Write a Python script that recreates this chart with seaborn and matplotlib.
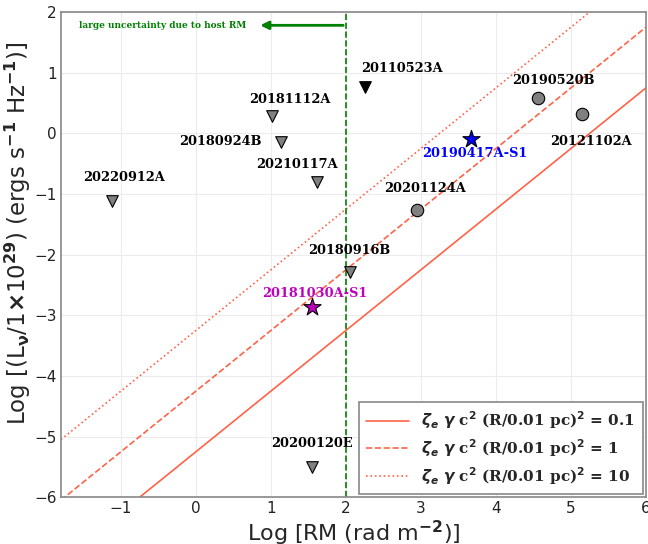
import matplotlib
matplotlib.use("Agg")
import matplotlib.pyplot as plt
import seaborn as sns
import pandas as pd

# FRB points: log RM vs log L_nu
names = ['20220912A', '20181112A', '20180924B', '20210117A', '20180916B', '20200120E',
         '20110523A', '20201124A', '20190520B', '20121102A', '20181030A-S1', '20190417A-S1']
log_rm = [-1.12, 1.02, 1.14, 1.62, 2.05, 1.55, 2.26, 2.95, 4.56, 5.15, 1.55, 3.67]
log_l = [-1.12, 0.28, -0.15, -0.81, -2.29, -5.5, 0.76, -1.27, 0.58, 0.31, -2.87, -0.1]
kind = ['upper', 'upper', 'upper', 'upper', 'upper', 'upper',
        'upper_black', 'circle', 'circle', 'circle', 'star_m', 'star_b']

# label positions (centre of text)
label_x = [-0.96, 1.25, 0.33, 1.35, 2.05, 1.55, 2.74, 3.05, 4.77, 5.26, 1.58, 3.71]
label_y = [-0.73, 0.56, -0.13, -0.51, -1.93, -5.12, 1.07, -0.91, 0.87, -0.13, -2.64, -0.33]
label_color = ['black'] * 10 + ['#bf00bf', '#0000ff']

# model lines
line_x = [-1.8, 6.0]
solid_y = [-7.05, 0.75]
dashed_y = [-6.05, 1.75]
dotted_y = [-5.05, 2.75]

sns.set_theme(style="whitegrid")
plt.rcParams['font.family'] = ['DejaVu Sans']

fig, ax = plt.subplots(figsize=(6.48, 5.44), dpi=100)
fig.subplots_adjust(left=0.094, right=0.997, top=0.978, bottom=0.086)

lab = r'$\mathbfit{\zeta_e}$ $\mathbfit{\gamma}$ c$^{\mathbf{2}}$ (R/0.01 pc)$^{\mathbf{2}}$ = '
sns.lineplot(x=line_x, y=solid_y, ax=ax, color='tomato', lw=1.2, ls='-', label=lab + '0.1')
sns.lineplot(x=line_x, y=dashed_y, ax=ax, color='tomato', lw=1.2, ls='--', label=lab + '1')
sns.lineplot(x=line_x, y=dotted_y, ax=ax, color='tomato', lw=1.2, ls=':', label=lab + '10')

df = pd.DataFrame({'rm': log_rm, 'l': log_l, 'kind': kind})
styles = {
    'upper': dict(marker='v', color='gray', s=70),
    'upper_black': dict(marker='v', color='black', s=70),
    'circle': dict(marker='o', color='gray', s=80),
    'star_m': dict(marker='*', color='#bf00bf', s=170),
    'star_b': dict(marker='*', color='#0000ff', s=170),
}
for k, st in styles.items():
    sub = df[df['kind'] == k]
    sns.scatterplot(data=sub, x='rm', y='l', ax=ax, marker=st['marker'], color=st['color'],
                    s=st['s'], edgecolor='black', linewidth=0.8, legend=False, zorder=5)

for n, x, y, c in zip(names, label_x, label_y, label_color):
    ax.text(x, y, n, ha='center', va='center', family='DejaVu Serif', weight='bold',
            fontsize=9.3, color=c)

ax.axvline(2, color='green', ls='--', lw=1.2)
ax.annotate('', xy=(0.82, 1.78), xytext=(2, 1.78),
            arrowprops=dict(arrowstyle='-|>', color='green', lw=2, mutation_scale=12))
ax.text(-0.44, 1.78, 'large uncertainty due to host RM', ha='center', va='center',
        family='DejaVu Serif', weight='bold', fontsize=6.5, color='green')

ax.set_xlim(-1.8, 6)
ax.set_ylim(-6, 2)
ax.set_xticks(range(-1, 7))
ax.set_yticks(range(-6, 3))
ax.tick_params(labelsize=11, colors='#222222', length=0, pad=3)
ax.grid(color='#ececec', lw=0.8)
for sp in ax.spines.values():
    sp.set_color('#888888')
    sp.set_linewidth(1.2)

ax.set_xlabel(r'Log [RM (rad m$^{\mathbf{-2}}$)]', fontsize=16, labelpad=2)
ax.set_ylabel(r'Log [(L$_{\mathbf{\nu}}$/1$\mathbf{\times}$10$^{\mathbf{29}}$) (ergs s$^{\mathbf{-1}}$ Hz$^{\mathbf{-1}}$)]',
              fontsize=16.5)
ax.yaxis.set_label_coords(-0.047, 0.545)

leg = ax.legend(loc='lower right', prop=dict(family='DejaVu Serif', weight='bold', size=11),
                frameon=True, fancybox=False, edgecolor='#888888', framealpha=1,
                handlelength=2.8, borderpad=0.5, labelspacing=0.4, borderaxespad=0.2)
leg.get_frame().set_linewidth(1.2)

fig.savefig('out.png', dpi=100)
